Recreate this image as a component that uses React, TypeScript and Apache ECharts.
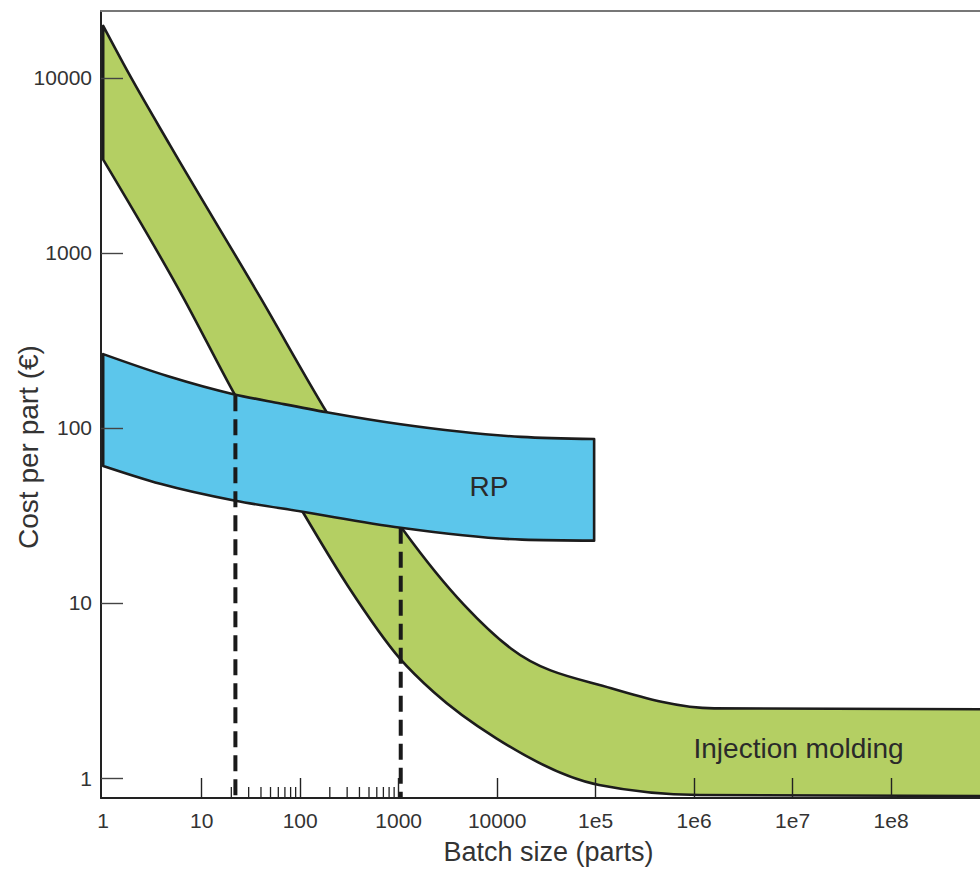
import React, { useEffect, useRef } from "react";
import * as echarts from "echarts";

// ---- Data ----
const xTickValues = [1, 10, 100, 1000, 10000, 1e5, 1e6, 1e7, 1e8];
const yTickValues = [1, 10, 100, 1000, 10000];
const minorTickValues = [20, 30, 40, 50, 60, 70, 80, 90, 200, 300, 400, 500, 600, 700, 800, 900];

// Injection molding band
const imUpperX = [1, 1.8, 4.8, 39.5, 186, 1127, 4590, 13800, 144000, 1.6e6, 8e8];
const imUpperY = [19800, 10700, 4100, 555, 123, 25.9, 9.8, 5.5, 3.26, 2.5, 2.47];
const imLowerX = [1, 6.4, 21, 106, 303, 1026, 2280, 9720, 108600, 1.13e6, 8e8];
const imLowerY = [3410, 565, 160, 33.2, 12.6, 4.83, 3.09, 1.69, 0.912, 0.8, 0.79];

// RP band
const rpUpperX = [1, 4.48, 21, 63, 186, 1050, 17500, 96600];
const rpUpperY = [264, 198, 156, 138, 123, 105, 88.9, 86.5];
const rpLowerX = [1, 3.8, 22, 106, 1050, 17900, 96600];
const rpLowerY = [60.7, 48, 38.4, 33.2, 26.9, 23.0, 22.7];

// Break-even dashed lines
const dashX = [22, 1050];
const dashTop = [154, 26.9];

// Band labels (anchor in data space)
const bandLabels: [number, number, string][] = [
  [8260, 46, "RP"],
  [1.15e7, 1.48, "Injection molding"],
];

const X_MIN = 0.95;
const X_MAX = 8e8;
const Y_MIN = 0.769;
const Y_MAX = 24100;

const GREEN = "#b4cf63";
const BLUE = "#5cc6eb";
const OUTLINE = "#1c1c1c";
const FONT = "'Liberation Sans', Arial, Helvetica, sans-serif";

const zip = (xs: number[], ys: number[]) => xs.map((x, i) => [x, ys[i]]);

const fmtX = (v: number) => {
  const e = Math.round(Math.log10(v));
  return e >= 5 ? "1e" + e : String(Math.pow(10, e));
};
const fmtY = (v: number) => String(Math.pow(10, Math.round(Math.log10(v))));

// Monotone cubic (like d3.curveMonotoneX) through pixel points, x increasing
type P = number[];
function monoSegs(pts: P[]): P[][] {
  const n = pts.length;
  if (n < 2) return [];
  const h: number[] = [];
  const s: number[] = [];
  for (let i = 0; i < n - 1; i++) {
    h[i] = pts[i + 1][0] - pts[i][0];
    s[i] = h[i] ? (pts[i + 1][1] - pts[i][1]) / h[i] : 0;
  }
  const t: number[] = new Array(n).fill(0);
  for (let i = 1; i < n - 1; i++) {
    if (s[i - 1] * s[i] <= 0) t[i] = 0;
    else {
      const p = (s[i - 1] * h[i] + s[i] * h[i - 1]) / (h[i - 1] + h[i]);
      t[i] =
        (Math.sign(s[i - 1]) + Math.sign(s[i])) *
        Math.min(Math.abs(s[i - 1]), Math.abs(s[i]), 0.5 * Math.abs(p));
    }
  }
  if (n === 2) {
    t[0] = s[0];
    t[1] = s[0];
  } else {
    t[0] = (3 * s[0] - t[1]) / 2;
    t[n - 1] = (3 * s[n - 2] - t[n - 2]) / 2;
  }
  const segs: P[][] = [];
  for (let i = 0; i < n - 1; i++) {
    const dx = h[i] / 3;
    const a = pts[i];
    const b = pts[i + 1];
    segs.push([a, [a[0] + dx, a[1] + dx * t[i]], [b[0] - dx, b[1] - dx * t[i + 1]], b]);
  }
  return segs;
}
const pt = (p: P) => `${p[0].toFixed(2)},${p[1].toFixed(2)}`;
const fwd = (segs: P[][]) => segs.map(([, c1, c2, b]) => `C${pt(c1)} ${pt(c2)} ${pt(b)}`).join(" ");
const rev = (segs: P[][]) =>
  segs
    .slice()
    .reverse()
    .map(([a, c1, c2]) => `C${pt(c2)} ${pt(c1)} ${pt(a)}`)
    .join(" ");

export default function App() {
  const ref = useRef<HTMLDivElement>(null);

  useEffect(() => {
    if (!ref.current) return;
    const chart = echarts.init(ref.current, null, { renderer: "svg" });

    const bandPaths = (api: any, ux: number[], uy: number[], lx: number[], ly: number[]) => {
      const up = zip(ux, uy).map((p) => api.coord(p));
      const lo = zip(lx, ly).map((p) => api.coord(p));
      const us = monoSegs(up);
      const ls = monoSegs(lo);
      const fill = `M${pt(up[0])} ${fwd(us)} L${pt(lo[lo.length - 1])} ${rev(ls)} Z`;
      const openOutline = `M${pt(up[up.length - 1])} ${rev(us)} L${pt(lo[0])} ${fwd(ls)}`;
      return { fill, openOutline };
    };

    const option: any = {
      animation: false,
      backgroundColor: "#ffffff",
      grid: { left: 101, right: 0, top: 11, bottom: 70, containLabel: false },
      xAxis: [
        {
          type: "log",
          logBase: 10,
          min: X_MIN,
          max: X_MAX,
          position: "bottom",
          z: 5,
          name: "Batch size (parts)",
          nameLocation: "middle",
          nameGap: 40,
          nameTextStyle: { fontSize: 27, color: "#333", fontFamily: FONT, padding: [0, 0, 0, 16] },
          axisLine: { show: true, lineStyle: { color: "#222", width: 2 } },
          axisTick: {
            show: true,
            inside: true,
            length: 20,
            customValues: xTickValues.slice(1),
            lineStyle: { color: "#222", width: 1.4 },
          },
          axisLabel: {
            customValues: xTickValues,
            formatter: fmtX,
            fontSize: 21,
            color: "#333",
            fontFamily: FONT,
            margin: 12,
          },
          splitLine: { show: false },
          minorTick: { show: false },
        },
        {
          type: "log",
          logBase: 10,
          min: X_MIN,
          max: X_MAX,
          position: "top",
          z: 5,
          axisLine: { show: true, lineStyle: { color: "#777", width: 2 } },
          axisTick: { show: false },
          axisLabel: { show: false },
          splitLine: { show: false },
        },
      ],
      yAxis: {
        type: "log",
        logBase: 10,
        min: Y_MIN,
        max: Y_MAX,
        z: 5,
        axisLine: { show: true, lineStyle: { color: "#222", width: 2 } },
        axisTick: {
          show: true,
          inside: true,
          length: 22,
          customValues: yTickValues,
          lineStyle: { color: "#444", width: 1.4 },
        },
        axisLabel: {
          customValues: yTickValues,
          formatter: fmtY,
          fontSize: 21,
          color: "#333",
          fontFamily: FONT,
          margin: 9,
        },
        splitLine: { show: false },
      },
      graphic: [
        {
          type: "text",
          x: 28,
          y: 447,
          rotation: Math.PI / 2,
          style: {
            text: "Cost per part (€)",
            fontSize: 28,
            fill: "#333",
            fontFamily: FONT,
            textAlign: "center",
            textVerticalAlign: "middle",
          },
        },
      ],
      series: [
        {
          type: "custom",
          name: "Injection molding",
          z: 1,
          silent: true,
          data: [[1, 1]],
          renderItem: (_p: any, api: any) => {
            const { fill, openOutline } = bandPaths(api, imUpperX, imUpperY, imLowerX, imLowerY);
            return {
              type: "group",
              children: [
                { type: "path", shape: { pathData: fill }, style: { fill: GREEN, stroke: null } },
                {
                  type: "path",
                  shape: { pathData: openOutline },
                  style: { fill: null, stroke: OUTLINE, lineWidth: 2.6, lineJoin: "round" },
                },
              ],
            };
          },
        },
        {
          type: "custom",
          name: "RP",
          z: 2,
          silent: true,
          data: [[1, 1]],
          renderItem: (_p: any, api: any) => {
            const { fill } = bandPaths(api, rpUpperX, rpUpperY, rpLowerX, rpLowerY);
            return {
              type: "path",
              shape: { pathData: fill },
              style: { fill: BLUE, stroke: OUTLINE, lineWidth: 2.6, lineJoin: "round" },
            };
          },
        },
        {
          type: "custom",
          name: "break-even",
          z: 3,
          silent: true,
          data: zip(dashX, dashTop),
          renderItem: (_p: any, api: any) => {
            const top = api.coord([api.value(0), api.value(1)]);
            const bot = api.coord([api.value(0), Y_MIN]);
            return {
              type: "line",
              shape: { x1: top[0], y1: top[1], x2: bot[0], y2: bot[1] },
              style: { stroke: "#1a1a1a", lineWidth: 4, lineDash: [16, 8] },
            };
          },
        },
        {
          type: "custom",
          name: "minor ticks",
          z: 4,
          silent: true,
          data: minorTickValues.map((v) => [v, Y_MIN]),
          renderItem: (_p: any, api: any) => {
            const p = api.coord([api.value(0), Y_MIN]);
            return {
              type: "line",
              shape: { x1: p[0], y1: p[1], x2: p[0], y2: p[1] - 11 },
              style: { stroke: "#222", lineWidth: 1.3 },
            };
          },
        },
        {
          type: "custom",
          name: "labels",
          z: 6,
          silent: true,
          data: bandLabels,
          renderItem: (_p: any, api: any) => {
            const p = api.coord([api.value(0), api.value(1)]);
            const text = bandLabels[_p.dataIndex][2];
            return {
              type: "text",
              x: p[0],
              y: p[1],
              style: {
                text,
                fontSize: 28,
                fill: "#2a2a2a",
                fontFamily: FONT,
                textAlign: "center",
                textVerticalAlign: "middle",
              },
            };
          },
        },
      ],
    };

    chart.setOption(option);
    return () => chart.dispose();
  }, []);

  return (
    <div
      ref={ref}
      style={{ position: "fixed", left: 0, top: 0, width: 980, height: 870, background: "#fff" }}
    />
  );
}
